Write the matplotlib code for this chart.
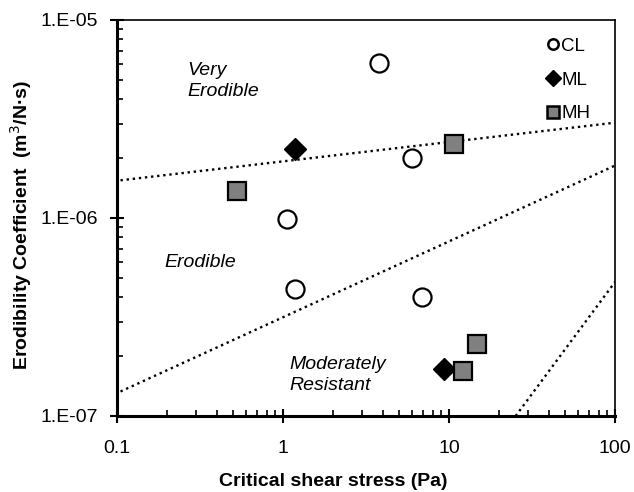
import matplotlib
matplotlib.use("Agg")
import matplotlib.pyplot as plt
from matplotlib.lines import Line2D

plt.rcParams['font.family'] = ['Liberation Sans', 'DejaVu Sans']

# Data
cl_x = [3.77, 5.95, 1.06, 1.18, 6.9]
cl_y = [6.07e-6, 2.01e-6, 0.99e-6, 4.4e-7, 4.0e-7]
ml_x = [1.18, 9.3]
ml_y = [2.23e-6, 1.73e-7]
mh_x = [0.53, 10.7, 14.8, 12.1]
mh_y = [1.37e-6, 2.36e-6, 2.32e-7, 1.68e-7]

line1_x = [0.105, 100]
line1_y = [1.55e-6, 3.03e-6]
line2_x = [0.105, 100]
line2_y = [1.33e-7, 1.84e-6]
line3_x = [25.2, 100]
line3_y = [1.0e-7, 4.75e-7]

xticks = [0.1, 1, 10, 100]
xticklabels = ['0.1', '1', '10', '100']
yticks = [1e-7, 1e-6, 1e-5]
yticklabels = ['1.E-07', '1.E-06', '1.E-05']

FS = 14

fig = plt.figure(figsize=(6.34, 4.92), dpi=100)
ax = fig.add_axes([117/634, 76/492, 498/634, 396/492])

dot = (0, (1, 1.6))
for lx, ly in [(line1_x, line1_y), (line2_x, line2_y), (line3_x, line3_y)]:
    ax.plot(lx, ly, color='black', lw=1.7, linestyle=dot, zorder=2)

ax.plot(cl_x, cl_y, 'o', ms=13, mfc='white', mec='black', mew=1.6, ls='none', zorder=3)
ax.plot(ml_x, ml_y, 'D', ms=11, mfc='black', mec='black', mew=1.0, ls='none', zorder=3)
ax.plot(mh_x, mh_y, 's', ms=12.3, mfc='#808080', mec='black', mew=1.6, ls='none', zorder=3)

ax.set_xscale('log')
ax.set_yscale('log')
ax.set_xlim(0.1, 100)
ax.set_ylim(1e-7, 1e-5)
ax.set_xticks(xticks)
ax.set_xticklabels(xticklabels)
ax.set_yticks(yticks)
ax.set_yticklabels(yticklabels)

ax.tick_params(axis='both', which='major', direction='inout', length=10, width=1.5,
               labelsize=FS)
ax.tick_params(axis='both', which='minor', direction='in', length=4, width=1.2)
ax.tick_params(axis='x', which='major', pad=12)
ax.tick_params(axis='y', which='major', pad=9)

for s in ['left', 'bottom']:
    ax.spines[s].set_linewidth(2.2)
for s in ['top', 'right']:
    ax.spines[s].set_linewidth(1.2)

ax.set_xlabel('Critical shear stress (Pa)', fontsize=FS, fontweight='bold',
              labelpad=12, x=0.435)
ax.set_ylabel('Erodibility Coefficient  (m$^{3}$/N·s)', fontsize=FS, fontweight='bold',
              labelpad=4, y=0.482)

ax.text(0.265, 4.92e-6, 'Very\nErodible', fontsize=FS, style='italic',
        ha='left', va='center', linespacing=1.3)
ax.text(0.192, 5.94e-7, 'Erodible', fontsize=FS, style='italic', ha='left', va='center')
ax.text(1.087, 1.61e-7, 'Moderately\nResistant', fontsize=FS, style='italic',
        ha='left', va='center', linespacing=1.3)

handles = [
    Line2D([], [], marker='o', ms=7.5, mfc='white', mec='black', mew=1.8, ls='none'),
    Line2D([], [], marker='D', ms=8, mfc='black', mec='black', ls='none'),
    Line2D([], [], marker='s', ms=8, mfc='#808080', mec='black', mew=1.8, ls='none'),
]
ax.legend(handles, ['CL', 'ML', 'MH'], loc='upper right', frameon=False,
          fontsize=13.5, handlelength=0.6, handletextpad=0.15, labelspacing=0.88,
          borderaxespad=0.0, borderpad=0.0, bbox_to_anchor=(0.95, 0.955))

fig.savefig('out.png', dpi=100)
